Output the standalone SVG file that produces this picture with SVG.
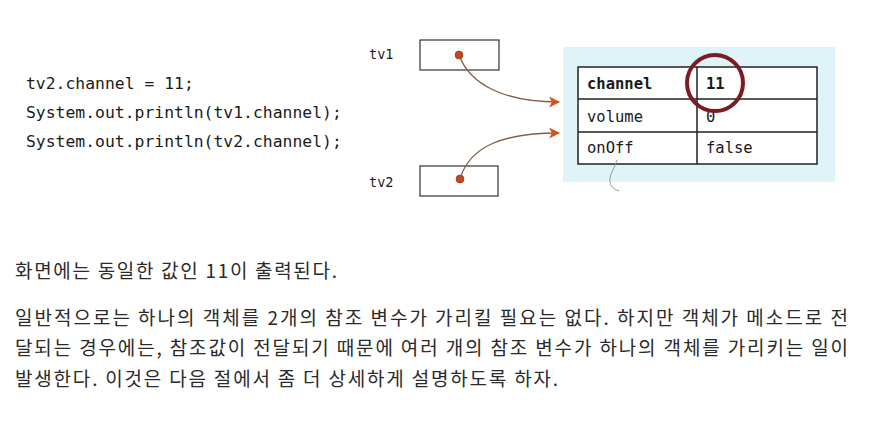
<svg xmlns="http://www.w3.org/2000/svg" width="876" height="432" viewBox="0 0 876 432">
<defs>
<style>
.code{font-family:"DejaVu Sans Mono","Liberation Mono",monospace;font-size:16.4px;fill:#1a1a1a}
.lbl{font-family:"DejaVu Sans Mono","Liberation Mono",monospace;font-size:13.5px;fill:#1a1a1a}
.cell{font-family:"DejaVu Sans Mono","Liberation Mono",monospace;font-size:15.5px;fill:#1a1a1a}
.b{font-weight:bold}
.body{font-family:"Noto Sans CJK KR","Noto Sans",sans-serif;font-size:19px;fill:#2a2a2a}
.box{fill:#fff;stroke:#333;stroke-width:1.2}
.grid{fill:none;stroke:#222;stroke-width:1.5}
.conn{fill:none;stroke:#8a5a44;stroke-width:1.3}
.dot{fill:#c8461c;stroke:#9a3414;stroke-width:0.8}
</style>
<marker id="ah" viewBox="0 0 10 10" refX="9" refY="5" markerWidth="13" markerHeight="11" markerUnits="userSpaceOnUse" orient="auto">
<path d="M0,0 L10,5 L0,10 L2.5,5 z" fill="#d0541f"/>
</marker>
</defs>
<rect width="876" height="432" fill="#fff"/>
<g id="code">
<text class="code" x="26" y="89">tv2.channel = 11;</text>
<text class="code" x="26" y="118">System.out.println(tv1.channel);</text>
<text class="code" x="26" y="147">System.out.println(tv2.channel);</text>
</g>
<g id="tv1">
<text class="lbl" x="369" y="59">tv1</text>
<rect class="box" x="420" y="40" width="79" height="30"/>
<circle class="dot" cx="459" cy="55" r="3.9"/>
</g>
<g id="tv2">
<text class="lbl" x="369" y="187">tv2</text>
<rect class="box" x="420" y="166" width="78" height="30"/>
<circle class="dot" cx="460" cy="179" r="3.9"/>
</g>
<g id="object">
<rect x="563" y="47" width="272" height="135" fill="#dff4f9"/>
<rect x="578" y="67" width="239" height="97" fill="#fff"/>
<path class="grid" d="M578,67 H817 V164 H578 Z M697,67 V164 M578,99 H817 M578,132 H817"/>
<text class="cell b" x="587" y="89">channel</text>
<text class="cell b" x="706" y="89">11</text>
<text class="cell" x="587" y="122">volume</text>
<text class="cell" x="706" y="122">0</text>
<text class="cell" x="587" y="153">onOff</text>
<text class="cell" x="706" y="153">false</text>
<circle cx="715" cy="83" r="28" fill="none" stroke="#7b1c22" stroke-width="4"/>
<path d="M617,160 C615,167 611,172 610,178 C609,184 612,189 619,191" fill="none" stroke="#999" stroke-width="1"/>
</g>
<g id="connectors">
<path class="conn" d="M459,55 C470,85 505,102 559,102" marker-end="url(#ah)"/>
<path class="conn" d="M460,179 C470,145 505,133 559,133" marker-end="url(#ah)"/>
</g>
<g id="body">
<text class="body" x="15" y="278" textLength="322" lengthAdjust="spacing">화면에는 동일한 값인 11이 출력된다.</text>
<text class="body" x="15" y="325" textLength="833" lengthAdjust="spacing">일반적으로는 하나의 객체를 2개의 참조 변수가 가리킬 필요는 없다. 하지만 객체가 메소드로 전</text>
<text class="body" x="15" y="355" textLength="833" lengthAdjust="spacing">달되는 경우에는, 참조값이 전달되기 때문에 여러 개의 참조 변수가 하나의 객체를 가리키는 일이</text>
<text class="body" x="15" y="386" textLength="543" lengthAdjust="spacing">발생한다. 이것은 다음 절에서 좀 더 상세하게 설명하도록 하자.</text>
</g>
</svg>
